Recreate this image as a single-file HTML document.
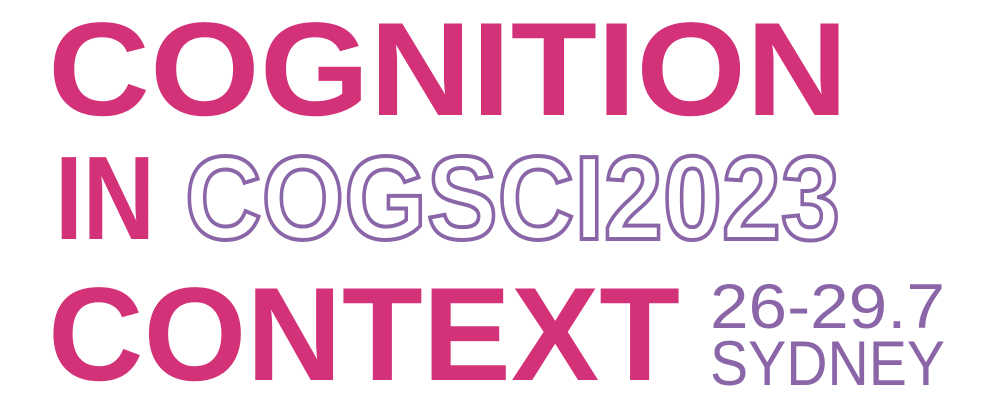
<!DOCTYPE html>
<html><head><meta charset="utf-8"><style>
html,body{margin:0;padding:0;background:#fff;width:1000px;height:410px;overflow:hidden}
svg{display:block}
text{font-family:"Liberation Sans",sans-serif;font-weight:bold}
</style></head><body>
<svg width="1000" height="410" viewBox="0 0 1000 410">
<text x="48" y="115" font-size="133" fill="#D33278" textLength="800" lengthAdjust="spacingAndGlyphs">COGNITION</text>
<text x="55" y="239" font-size="119" fill="#D33278" textLength="100" lengthAdjust="spacingAndGlyphs">IN</text>
<text x="185" y="239" font-size="119" fill="none" stroke="#8A66A8" stroke-width="4" textLength="655" lengthAdjust="spacingAndGlyphs">COGSCI2023</text>
<text x="48" y="380" font-size="133" fill="#D33278" textLength="632" lengthAdjust="spacingAndGlyphs">CONTEXT</text>
<text x="710" y="328" font-size="63" font-weight="normal" fill="#8A66A8" textLength="235" lengthAdjust="spacingAndGlyphs" style="font-weight:normal">26-29.7</text>
<text x="710" y="385" font-size="63" fill="#8A66A8" textLength="235" lengthAdjust="spacingAndGlyphs" style="font-weight:normal">SYDNEY</text>
</svg>
</body></html>
